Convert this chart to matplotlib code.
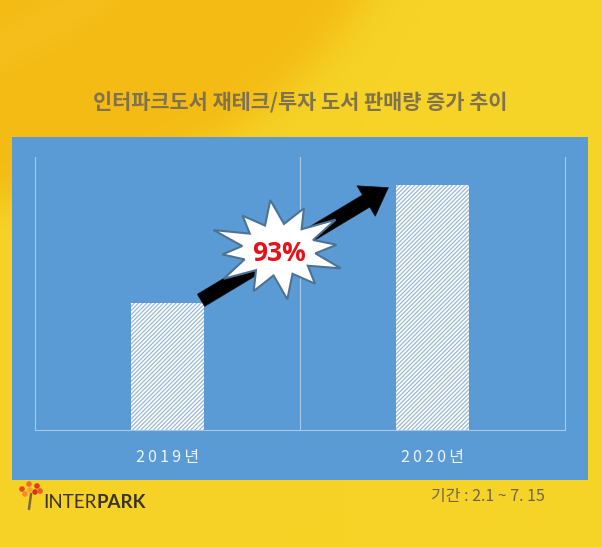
import numpy as np
import matplotlib
matplotlib.use("Agg")
import matplotlib.pyplot as plt
from matplotlib.patches import Rectangle, Polygon, FancyArrowPatch, Circle
from matplotlib.font_manager import FontProperties
import matplotlib.colors as mcolors

plt.rcParams['font.family'] = ['Noto Sans CJK KR', 'DejaVu Sans']
plt.rcParams['hatch.linewidth'] = 0.9

# ---- data ----
categories = ["2019년", "2020년"]
values = [100, 193]
growth_label = "93%"
title = "인터파크도서 재테크/투자 도서 판매량 증가 추이"
period = "기간 : 2.1 ~ 7. 15"

W, H = 602, 547
fig = plt.figure(figsize=(W / 100, H / 100), dpi=100)

# ---- background gradient ----
bg = fig.add_axes([0, 0, 1, 1])
bg.set_xlim(0, W)
bg.set_ylim(H, 0)
bg.axis('off')
yy, xx = np.mgrid[0:H, 0:W]
c_or = np.array(mcolors.to_rgb('#f4bb15'))
c_ye = np.array(mcolors.to_rgb('#f6d326'))
d = np.sqrt((xx + 6) ** 2 + (yy + 237) ** 2) - 437
t = 1 / (1 + np.exp(-d / 12))
img = c_or[None, None, :] * (1 - t[..., None]) + c_ye[None, None, :] * t[..., None]
# subtle lighter top-left swoosh
d2 = np.sqrt((xx + 120) ** 2 + (yy + 260) ** 2) - 330
t2 = np.exp(-(d2 / 22) ** 2) * 0.12
img = img * (1 - t2[..., None]) + np.array([1.0, 0.86, 0.3])[None, None, :] * t2[..., None]
# slight lighter toward right
t3 = np.clip((xx - 350) / 400, 0, 1) * 0.08
img = img * (1 - t3[..., None]) + np.array([0.98, 0.88, 0.3])[None, None, :] * t3[..., None]
bg.imshow(img, extent=[0, W, H, 0], aspect='auto', zorder=0)

# blue panel
bg.add_patch(Rectangle((12, 137), 576, 343, facecolor='#5b9bd5', edgecolor='none', zorder=1))

# title
bg.text(300, 103, title, ha='center', va='center', fontsize=15, fontweight='bold',
        color='#80724f', zorder=2)

# period
bg.text(545, 497, period, ha='right', va='center', fontsize=11.5, color='#6f6651', zorder=2)

# logo
bg.plot([31, 29], [494, 509], color='#7a6a3a', lw=1.8, zorder=2, solid_capstyle='round')
for (cx, cy, col) in [(22, 489, '#e8452a'), (29, 484, '#f26b2a'), (37, 486, '#e33a22'),
                      (25, 494, '#f08a2a'), (35, 492, '#d9341f'), (30, 490, '#f5a52a'),
                      (40, 491, '#ea5a26')]:
    bg.add_patch(Circle((cx, cy), 2.8, facecolor=col, edgecolor='none', zorder=3))
t_inter = bg.text(43, 502, "INTER", ha='left', va='center', fontsize=13.5, color='#3b3422',
                  family=['Lato', 'DejaVu Sans'], fontweight='normal', zorder=2)
fig.canvas.draw()
bb = t_inter.get_window_extent()
x_end = bb.x1 / fig.dpi * 100
bg.text(x_end + 0.5, 502, "PARK", ha='left', va='center', fontsize=13.5, color='#3b3422',
        family=['Lato', 'DejaVu Sans'], fontweight='bold', zorder=2)

# ---- chart axes ----
L, R, T, B = 35, 565, 157, 430
ax = fig.add_axes([L / W, 1 - B / H, (R - L) / W, (B - T) / H])
ax.set_facecolor('none')
ax.set_xlim(-0.5, 1.5)
ax.set_ylim(0, 215)
x = np.arange(len(categories))
bw = 0.275
ax.bar(x, values, width=bw, facecolor='white', edgecolor='#9ab8d6', hatch='////////',
       linewidth=0, zorder=2)
ax.spines['top'].set_visible(False)
for s in ['left', 'right', 'bottom']:
    ax.spines[s].set_color('#a9c8e8')
    ax.spines[s].set_linewidth(0.8)
ax.axvline(0.5, color='#a9c8e8', lw=0.8, zorder=1)
ax.set_yticks([])
ax.set_xticks(x)
ax.set_xticklabels(["\u2009".join(list(c)) for c in categories])
ax.tick_params(axis='x', length=0, pad=14)
for lbl in ax.get_xticklabels():
    lbl.set_fontproperties(FontProperties(family=['Noto Sans CJK KR', 'DejaVu Sans'], size=11.5))
    lbl.set_color('#eef4fb')

# arrow
start = (x[0] + bw / 2 - 0.02, values[0] + 1)
end = (x[1] - bw / 2 - 0.02, values[1] - 1)
arr = FancyArrowPatch(start, end, arrowstyle='simple,head_width=1.5,head_length=1.1,tail_width=0.6',
                      mutation_scale=17, facecolor='black', edgecolor='#111111', lw=0.5, zorder=3)
ax.add_patch(arr)

# starburst
cx, cy = 0.42, 142
rx_out, ry_out = 71 / 265, 50 / 273 * 215
n = 12
outer_scale = [1.0, 0.85, 1.0, 0.8, 0.97, 0.9, 1.0, 0.85, 0.95, 0.82, 1.0, 0.9]
pts = []
for i in range(2 * n):
    ang = np.pi / 2 + i * np.pi / n + 0.12
    s = outer_scale[i // 2] if i % 2 == 0 else 0.52
    pts.append((cx + rx_out * s * np.cos(ang), cy + ry_out * s * np.sin(ang)))
ax.add_patch(Polygon(pts, closed=True, facecolor='white', edgecolor='#4d7394', lw=1.5, zorder=4))
ax.text(cx, cy - 3, growth_label, ha='center', va='center', fontsize=19, fontweight='bold',
        color='#e3121b', family=['Open Sans', 'DejaVu Sans'], zorder=5)

fig.savefig('out.png', dpi=100)
